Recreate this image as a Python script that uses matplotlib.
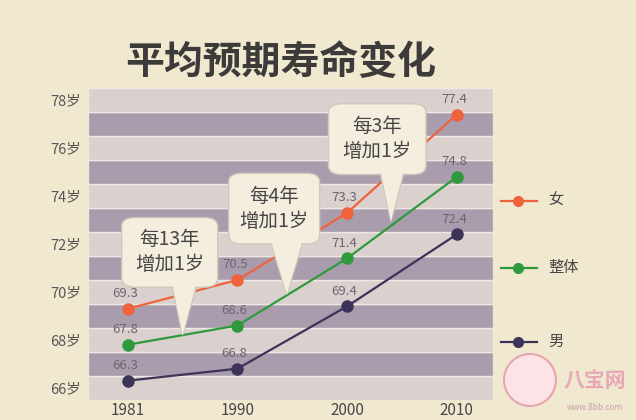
import matplotlib.pyplot as plt
from matplotlib.patches import FancyBboxPatch, Polygon, Rectangle, Circle
from matplotlib.lines import Line2D

plt.rcParams['font.family'] = ['Noto Sans CJK SC', 'DejaVu Sans']

years = ["1981", "1990", "2000", "2010"]
series = ["女", "整体", "男"]
female = [69.3, 70.5, 73.3, 77.4]
overall = [67.8, 68.6, 71.4, 74.8]
male = [66.3, 66.8, 69.4, 72.4]
values = [female, overall, male]
colors = ["#f0623c", "#2f9a3c", "#3c3358"]
yticks = [66, 68, 70, 72, 74, 76, 78]
notes = ["每13年\n增加1岁", "每4年\n增加1岁", "每3年\n增加1岁"]

BG = "#f1e8d0"
fig = plt.figure(figsize=(6.36, 4.2), dpi=100, facecolor=BG)
ax = fig.add_axes([0.138, 0.048, 0.637, 0.742])
ax.set_xlim(-0.365, 3.33)
ax.set_ylim(65.5, 78.5)
ax.set_facecolor(BG)
for s in ax.spines.values():
    s.set_visible(False)

# striped background, one band per year of age
for v in range(65, 79):
    c = "#dad1ce" if v % 2 == 0 else "#a99cad"
    ax.add_patch(Rectangle((-0.365, v - 0.5), 3.7, 1.0, facecolor=c,
                           edgecolor="#eee8e4", linewidth=1.0, zorder=0))

x = list(range(len(years)))
for vals, col in zip(values, colors):
    ax.plot(x, vals, color=col, lw=1.6, marker="o", ms=8, zorder=4)
    for xi, v in zip(x, vals):
        ax.annotate(f"{v:.1f}", (xi, v), xytext=(-2, 11), textcoords="offset points",
                    ha="center", va="center", fontsize=9.5, color="#6b6572", zorder=5)

ax.set_xticks([])
ax.set_yticks(yticks)
ax.set_yticklabels([f"{t}岁" for t in yticks], fontsize=10.5, color="#5a5658")
ax.tick_params(axis="y", length=0, pad=5)

# x labels sit right at the bottom edge
for xi, yr in zip(x, years):
    ax.annotate(yr, (xi, 65.5), xytext=(0, -19), textcoords="offset pixels",
                ha="center", va="bottom", fontsize=11, color="#4a4648",
                annotation_clip=False)

# speech bubbles: box (x0, x1, y0, y1), tail tip, tail base
bubbles = [
    ((-0.055, 0.82, 70.2, 73.1), (0.50, 68.2), (0.40, 0.63)),
    ((0.92, 1.75, 72.0, 74.95), (1.45, 69.9), (1.30, 1.60)),
    ((1.83, 2.72, 74.9, 77.85), (2.40, 72.95), (2.30, 2.52)),
]
for (box, tip, base), txt in zip(bubbles, notes):
    x0, x1, y0, y1 = box
    tail = [(base[0], y0 + 0.1), tip, (base[1], y0 + 0.1)]
    ax.add_patch(Polygon(tail, closed=True, facecolor="#f4eedf", edgecolor="#cfc8bd",
                         lw=1.0, zorder=6))
    ax.add_patch(FancyBboxPatch((x0, y0), x1 - x0, y1 - y0,
                                boxstyle="round,pad=0,rounding_size=0.12",
                                mutation_aspect=3.0,
                                facecolor="#f4eedf", edgecolor="#cfc8bd", lw=1.0, zorder=6))
    ax.add_patch(Polygon([(base[0] + 0.01, y0 + 0.15), tip, (base[1] - 0.01, y0 + 0.15)],
                         closed=True, facecolor="#f4eedf", edgecolor="none", zorder=7))
    ax.text((x0 + x1) / 2, (y0 + y1) / 2, txt, ha="center", va="center",
            fontsize=14, color="#4a4646", linespacing=1.25, zorder=8)

fig.text(0.441, 0.852, "平均预期寿命变化", ha="center", va="center",
         fontsize=28, fontweight="bold", color="#3d3a3a")

# legend drawn by hand to keep the wide spacing
leg_y = [0.522, 0.362, 0.186]
for name, col, ly in zip(series, colors, leg_y):
    fig.add_artist(Line2D([0.787, 0.845], [ly, ly], color=col, lw=1.6,
                          transform=fig.transFigure))
    fig.add_artist(Line2D([0.815], [ly], color=col, marker="o", ms=7,
                          transform=fig.transFigure))
    fig.text(0.862, ly, name, ha="left", va="center", fontsize=11, color="#4a4646")

# watermark
fig.add_artist(Circle((5.3, 0.4), 0.26, transform=fig.dpi_scale_trans,
                      facecolor="#fbe3e6", edgecolor="#e8a4b2", lw=1.5))
fig.text(0.935, 0.095, "八宝网", ha="center", va="center", fontsize=15,
         color="#e9a8b6", fontweight="bold")
fig.text(0.935, 0.03, "www.8bb.com", ha="center", va="center", fontsize=6,
         color="#c9a0a8")

fig.savefig("out.png", dpi=100, facecolor=BG)
